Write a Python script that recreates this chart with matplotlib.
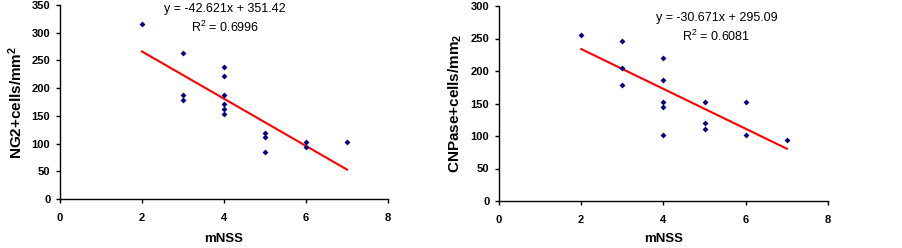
import matplotlib
matplotlib.use("Agg")
import matplotlib.pyplot as plt
import numpy as np

plt.rcParams['font.family'] = ['Liberation Sans', 'DejaVu Sans']
plt.rcParams['mathtext.default'] = 'regular'

# Left panel data (NG2)
ng2_x = [2, 3, 3, 3, 4, 4, 4, 4, 4, 4, 5, 5, 5, 6, 6, 7]
ng2_y = [315, 263, 187, 179, 238, 222, 188, 171, 162, 153, 119, 111, 85, 102, 94, 102]
ng2_slope, ng2_intercept, ng2_r2 = -42.621, 351.42, 0.6996

# Right panel data (CNPase)
cnp_x = [2, 3, 3, 3, 4, 4, 4, 4, 4, 5, 5, 5, 6, 6, 7]
cnp_y = [255, 246, 204, 178, 220, 186, 153, 144, 101, 153, 120, 111, 153, 102, 93.5]
cnp_slope, cnp_intercept, cnp_r2 = -30.671, 295.09, 0.6081

W, H = 903, 248
fig = plt.figure(figsize=(W / 100, H / 100), dpi=100)


def make_ax(l, r, t, b):
    return fig.add_axes([l / W, 1 - b / H, (r - l) / W, (b - t) / H])


def style(ax, ymax, ystep, ylabel, eq_pos, slope, intercept, r2, xd, yd, xlpad):
    ax.scatter(xd, yd, marker='D', s=9, color='#000080', zorder=3, linewidths=0)
    xs = np.array([min(xd), max(xd)])
    ax.plot(xs, slope * xs + intercept, color='#ff0000', lw=1.5, zorder=2)
    ax.set_xlim(0, 8)
    ax.set_ylim(0, ymax)
    ax.set_xticks(np.arange(0, 9, 2))
    ax.set_yticks(np.arange(0, ymax + 1, ystep))
    for s in ['top', 'right']:
        ax.spines[s].set_visible(False)
    for s in ['left', 'bottom']:
        ax.spines[s].set_linewidth(1.0)
    ax.tick_params(direction='out', length=3, width=1, labelsize=8)
    ax.tick_params(axis='y', pad=4)
    ax.tick_params(axis='x', pad=7)
    for lab in ax.get_xticklabels() + ax.get_yticklabels():
        lab.set_fontweight('bold')
    ax.set_xlabel('mNSS', fontsize=9.5, fontweight='bold', labelpad=xlpad)
    ax.set_ylabel(ylabel, fontsize=11, fontweight='bold', labelpad=5)
    sign = '+' if intercept >= 0 else '-'
    ax.text(eq_pos[0], eq_pos[1], f'y = {slope}x {sign} {abs(intercept):.2f}',
            ha='center', va='center', fontsize=9)
    ax.text(eq_pos[0], eq_pos[2], f'R$^{{2}}$ = {r2:.4f}', ha='center', va='center', fontsize=9)


ax1 = make_ax(60, 388, 5, 199)
style(ax1, 350, 50, 'NG2+cells/mm$^{2}$', (4.02, 343, 310),
      ng2_slope, ng2_intercept, ng2_r2, ng2_x, ng2_y, 7)

ax2 = make_ax(499, 828, 6, 201)
style(ax2, 300, 50, 'CNPase+cells/mm$_{2}$', (5.29, 281, 253),
      cnp_slope, cnp_intercept, cnp_r2, cnp_x, cnp_y, 5.5)

fig.savefig('out.png', dpi=100)
